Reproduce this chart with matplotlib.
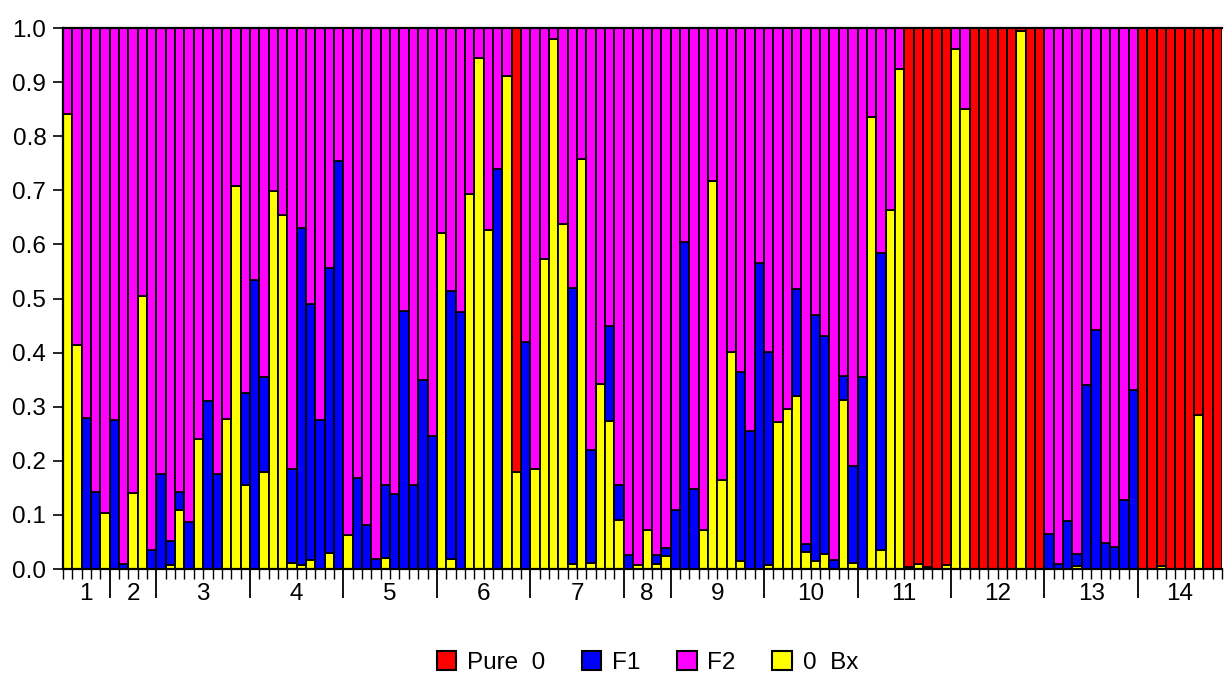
import matplotlib
matplotlib.use("Agg")
import matplotlib.pyplot as plt
from matplotlib.patches import Patch
import numpy as np

plt.rcParams['font.family'] = ['Liberation Sans', 'DejaVu Sans']

# population groups and the number of individuals in each
groups = ["1", "2", "3", "4", "5", "6", "7", "8", "9", "10", "11", "12", "13", "14"]
group_sizes = [5, 5, 10, 10, 10, 10, 10, 5, 10, 10, 10, 10, 10, 9]

# membership proportions per individual (bottom to top: 0 Bx, F1, F2, Pure 0)
bx = [0.842, 0.415, 0, 0, 0.104,
      0, 0, 0.14, 0.505, 0,
      0, 0.007, 0.109, 0, 0.24, 0, 0, 0.277, 0.708, 0.155,
      0, 0.18, 0.698, 0.655, 0.012, 0.007, 0.017, 0, 0.029, 0,
      0.063, 0, 0, 0, 0.02, 0, 0, 0, 0, 0,
      0.622, 0.018, 0, 0.693, 0.945, 0.627, 0, 0.912, 0.18, 0,
      0.185, 0.573, 0.98, 0.637, 0.01, 0.758, 0.012, 0.342, 0.273, 0.091,
      0, 0.007, 0.072, 0.01, 0.024,
      0, 0, 0, 0.073, 0.717, 0.165, 0.402, 0.015, 0, 0,
      0.007, 0.272, 0.295, 0.32, 0.032, 0.015, 0.027, 0, 0.312, 0.012,
      0, 0.835, 0.036, 0.663, 0.925, 0, 0.009, 0, 0, 0.008,
      0.962, 0.85, 0, 0, 0, 0, 0, 0.995, 0, 0,
      0, 0, 0, 0.005, 0, 0, 0, 0, 0, 0,
      0, 0, 0.006, 0, 0, 0, 0.285, 0, 0]

f1 = [0, 0, 0.28, 0.143, 0,
      0.275, 0.01, 0, 0, 0.035,
      0.175, 0.045, 0.034, 0.086, 0, 0.31, 0.175, 0, 0, 0.17,
      0.535, 0.175, 0, 0, 0.173, 0.623, 0.473, 0.275, 0.528, 0.755,
      0, 0.168, 0.081, 0.018, 0.135, 0.138, 0.477, 0.155, 0.35, 0.245,
      0, 0.495, 0.475, 0, 0, 0, 0.74, 0, 0, 0.42,
      0, 0, 0, 0, 0.51, 0, 0.208, 0, 0.177, 0.064,
      0.026, 0, 0, 0.016, 0.014,
      0.11, 0.605, 0.148, 0, 0, 0, 0, 0.35, 0.255, 0.565,
      0.395, 0, 0, 0.198, 0.015, 0.455, 0.403, 0.017, 0.045, 0.178,
      0.355, 0, 0.549, 0, 0, 0.003, 0, 0.003, 0, 0,
      0, 0, 0, 0, 0, 0, 0, 0, 0, 0,
      0.065, 0.01, 0.088, 0.022, 0.34, 0.442, 0.048, 0.04, 0.128, 0.33,
      0, 0, 0, 0, 0, 0, 0, 0, 0]

f2 = [0.158, 0.585, 0.72, 0.857, 0.896,
      0.725, 0.99, 0.86, 0.495, 0.965,
      0.825, 0.948, 0.857, 0.914, 0.76, 0.69, 0.825, 0.723, 0.292, 0.675,
      0.465, 0.645, 0.302, 0.345, 0.815, 0.37, 0.51, 0.725, 0.443, 0.245,
      0.937, 0.832, 0.919, 0.982, 0.845, 0.862, 0.523, 0.845, 0.65, 0.755,
      0.378, 0.487, 0.525, 0.307, 0.055, 0.373, 0.26, 0.088, 0, 0.58,
      0.815, 0.427, 0.02, 0.363, 0.48, 0.242, 0.78, 0.658, 0.55, 0.845,
      0.974, 0.993, 0.928, 0.974, 0.962,
      0.89, 0.395, 0.852, 0.927, 0.283, 0.835, 0.598, 0.635, 0.745, 0.435,
      0.598, 0.728, 0.705, 0.482, 0.953, 0.53, 0.57, 0.983, 0.643, 0.81,
      0.645, 0.165, 0.415, 0.337, 0.075, 0, 0, 0, 0, 0,
      0.038, 0.15, 0, 0, 0, 0, 0, 0, 0, 0,
      0.935, 0.99, 0.912, 0.973, 0.66, 0.558, 0.952, 0.96, 0.872, 0.67,
      0, 0, 0, 0, 0, 0, 0, 0, 0]

pure0 = [0, 0, 0, 0, 0,
         0, 0, 0, 0, 0,
         0, 0, 0, 0, 0, 0, 0, 0, 0, 0,
         0, 0, 0, 0, 0, 0, 0, 0, 0, 0,
         0, 0, 0, 0, 0, 0, 0, 0, 0, 0,
         0, 0, 0, 0, 0, 0, 0, 0, 0.82, 0,
         0, 0, 0, 0, 0, 0, 0, 0, 0, 0,
         0, 0, 0, 0, 0,
         0, 0, 0, 0, 0, 0, 0, 0, 0, 0,
         0, 0, 0, 0, 0, 0, 0, 0, 0, 0,
         0, 0, 0, 0, 0, 0.997, 0.991, 0.997, 1.0, 0.992,
         0, 0, 1.0, 1.0, 1.0, 1.0, 1.0, 0.005, 1.0, 1.0,
         0, 0, 0, 0, 0, 0, 0, 0, 0, 0,
         1.0, 1.0, 0.994, 1.0, 1.0, 1.0, 0.715, 1.0, 1.0]

legend_labels = ["Pure  0", "F1", "F2", "0  Bx"]
colors = {"Pure  0": "#FF0000", "F1": "#0000FF", "F2": "#FF00FF", "0  Bx": "#FFFF00"}

fig = plt.figure(figsize=(12.25, 6.77), dpi=100)
ax = fig.add_axes([0.0514, 0.1595, 0.9462, 0.7991])

n = len(bx)
x = np.arange(n)
bx_a, f1_a, f2_a, p0_a = map(np.array, (bx, f1, f2, pure0))
edge = dict(edgecolor="black", linewidth=1.3, width=1.0)
ax.bar(x, bx_a, color=colors["0  Bx"], **edge)
ax.bar(x, f1_a, bottom=bx_a, color=colors["F1"], **edge)
ax.bar(x, f2_a, bottom=bx_a + f1_a, color=colors["F2"], **edge)
ax.bar(x, p0_a, bottom=bx_a + f1_a + f2_a, color=colors["Pure  0"], **edge)

ax.set_xlim(-0.5, n - 0.5)
ax.set_ylim(0, 1.0)
ax.set_yticks(np.arange(0, 1.01, 0.1))
ax.set_yticklabels([f"{v:.1f}" for v in np.arange(0, 1.01, 0.1)], fontsize=17.5)
ax.tick_params(axis='y', direction='out', length=7, width=1.2, pad=5)

# x ticks: short ticks at every bar boundary, long ticks at group boundaries
bounds = np.cumsum([0] + group_sizes) - 0.5
ax.set_xticks(np.arange(n + 1) - 0.5, minor=True)
ax.tick_params(axis='x', which='minor', direction='out', length=7, width=1.0)
ax.set_xticks(bounds[1:-1])
ax.set_xticklabels([])
ax.tick_params(axis='x', which='major', direction='out', length=21, width=1.3)
centers = (bounds[:-1] + bounds[1:]) / 2
for c, g in zip(centers, groups):
    ax.text(c, -0.026, g, transform=ax.get_xaxis_transform(), ha='center', va='top', fontsize=17.5)

for s in ["left", "bottom", "top"]:
    ax.spines[s].set_linewidth(1.6)
ax.spines["right"].set_visible(False)

handles = [Patch(facecolor=colors[l], edgecolor="black", linewidth=1.5) for l in legend_labels]
fig.legend(handles, legend_labels, loc='center', bbox_to_anchor=(0.5285, 0.021), ncol=4,
           frameon=False, fontsize=17.5, handlelength=0.8, handleheight=0.8,
           handletextpad=0.45, columnspacing=1.5)

fig.savefig("out.png", dpi=100)
